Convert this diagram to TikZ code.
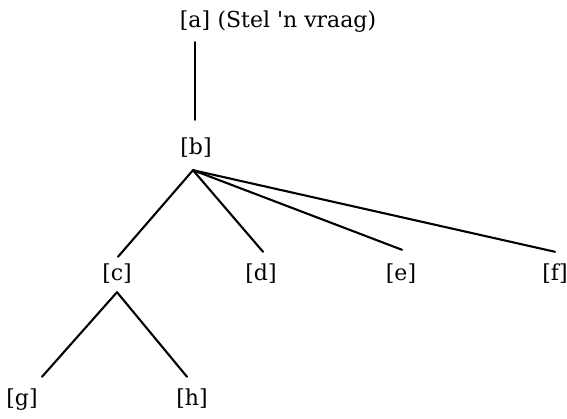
\documentclass[tikz,border=0pt]{standalone}
\usepackage{fontspec}
\setmainfont{DejaVu Serif}
\begin{document}
\begin{tikzpicture}[x=1pt,y=1pt,
  lab/.style={font=\fontsize{22}{26}\selectfont, inner sep=0pt, text height=14pt, text depth=4pt},
  branch/.style={line width=2.1pt, line cap=round}]
\useasboundingbox (0,0) rectangle (567,419);
\node[lab] (a) at (195,396) {[a]};
\node[lab, anchor=west] (aq) at ([xshift=7pt]a.east) {(Stel \textquotesingle n vraag)};
\node[lab] (b) at (196,269) {[b]};
\node[lab] (c) at (117,143) {[c]};
\node[lab] (d) at (261,143) {[d]};
\node[lab] (e) at (401,143) {[e]};
\node[lab] (f) at (555,143) {[f]};
\node[lab] (g) at (22,18) {[g]};
\node[lab] (h) at (192,18) {[h]};
\coordinate (bj) at ([shift={(-3pt,-11pt)}]b.south);
\coordinate (cj) at ([yshift=-7pt]c.south);
\draw[branch] ([yshift=-10pt]a.south) -- ([shift={(-1pt,21pt)}]b.north);
\draw[branch] (bj) -- ([shift={(1pt,10pt)}]c.north);
\draw[branch] (bj) -- ([shift={(2pt,15pt)}]d.north);
\draw[branch] (bj) -- ([shift={(1pt,17pt)}]e.north);
\draw[branch] (bj) -- ([yshift=15pt]f.north);
\draw[branch] (cj) -- ([shift={(20pt,15pt)}]g.north);
\draw[branch] (cj) -- ([shift={(-5pt,15pt)}]h.north);
\end{tikzpicture}
\end{document}
